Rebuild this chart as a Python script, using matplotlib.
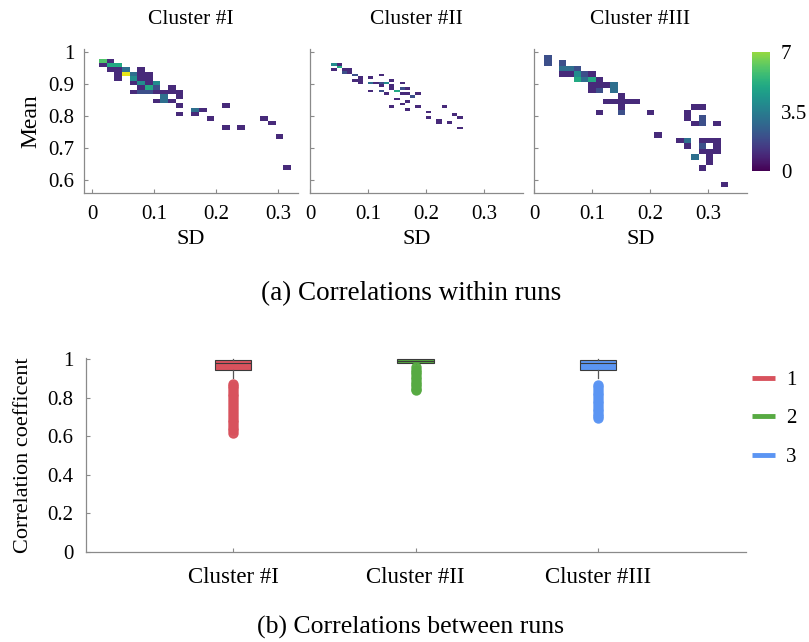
import numpy as np
import matplotlib
matplotlib.use("Agg")
from matplotlib import pyplot as plt
from matplotlib.colors import Normalize, ListedColormap
from matplotlib.cm import ScalarMappable
from matplotlib.lines import Line2D

plt.rcParams['font.family'] = ['Liberation Serif', 'DejaVu Serif']

# ---- (a) 2D histograms of SD vs mean, one per cluster ----
cluster_titles = ["Cluster #I", "Cluster #II", "Cluster #III"]

p1_sd = [.017, .030, .017, .030, .042, .030, .042, .054, .079,
         .042, .054, .067, .079, .092, .042, .067, .079, .092,
         .067, .079, .092, .104, .079, .092, .104, .129,
         .067, .079, .092, .104, .116, .129, .141,
         .116, .141, .104, .116, .129, .141, .215, .166, .178,
         .141, .166, .191, .277, .290, .215, .240, .302, .314]
p1_mean = [.972, .972, .958, .958, .958, .944, .944, .944, .944,
           .930, .930, .930, .930, .930, .916, .916, .916, .916,
           .903, .903, .903, .903, .889, .889, .889, .889,
           .875, .875, .875, .875, .875, .875, .875,
           .861, .861, .847, .847, .847, .833, .833, .819, .819,
           .805, .805, .791, .791, .777, .764, .764, .736, .638]
p1_count = [6, 1, 1, 5, 5, 1, 1, 3, 1,
            1, 8, 3, 1, 1, 1, 4, 1, 1,
            1, 4, 1, 4, 1, 5, 2, 1,
            1, 2, 2, 1, 1, 1, 1,
            3, 1, 1, 3, 1, 1, 1, 3, 1,
            1, 1, 1, 1, 1, 1, 1, 1, 1]

p2_sd = [.042, .052, .042, .052, .0615, .0615, .069, .069, .078, .086,
         .078, .086, .086, .105, .122, .105, .114, .124, .132, .141,
         .158, .105, .124, .124, .132, .141, .141, .149, .158, .167,
         .158, .167, .175, .187, .149, .167, .158, .141, .167, .187,
         .204, .231, .204, .221, .221, .240, .248, .259, .259]
p2_mean = [.958, .960, .947, .950, .944, .935, .942, .933, .928, .923,
           .913, .913, .904, .921, .930, .902, .904, .904, .904, .913,
           .904, .879, .895, .876, .871, .894, .883, .876, .887, .883,
           .869, .866, .863, .871, .853, .845, .838, .831, .821, .831,
           .814, .831, .797, .788, .782, .781, .805, .797, .764]
p2_count = [4, 1, 1, 5, 1, 2, 1, 1, 2, 1,
            1, 1, 1, 1, 1, 3, 1, 2, 4, 1,
            1, 1, 1, 2, 1, 1, 1, 5, 2, 1,
            1, 1, 2, 1, 1, 1, 1, 1, 1, 1,
            1, 1, 1, 1, 1, 1, 1, 1, 1]

p3_sd = [.024, .024, .049, .049, .062, .075, .049, .062, .075, .087, .100,
         .075, .087, .100, .113, .100, .113, .125, .138, .100, .113, .138,
         .151, .125, .138, .151, .163, .176, .151, .277, .290,
         .113, .151, .201, .264, .264, .290, .277, .290, .315,
         .214, .252, .264, .290, .302, .315, .264, .290, .315,
         .290, .302, .315, .277, .302, .302, .290, .328]
p3_mean = [.982, .965, .965, .948, .948, .948, .930, .930, .930, .930, .930,
           .913, .913, .913, .913, .896, .896, .896, .896, .879, .879, .879,
           .862, .844, .844, .844, .844, .844, .827, .827, .827,
           .810, .810, .810, .810, .793, .793, .776, .776, .776,
           .741, .724, .724, .724, .724, .724, .707, .707, .707,
           .690, .690, .690, .672, .672, .655, .638, .586]
p3_count = [2, 2, 2, 3, 3, 2, 1, 1, 4, 2, 1,
            5, 3, 5, 1, 1, 1, 1, 3, 1, 2, 3,
            1, 1, 1, 1, 1, 1, 1, 1, 1,
            1, 2, 1, 1, 1, 2, 1, 2, 1,
            1, 1, 3, 1, 1, 1, 1, 2, 1,
            1, 1, 1, 3, 1, 1, 1, 1]

# histogram bins used for each cluster
hist_ranges = [[[0.011, 0.321], [0.6315, 0.979]],
               [[0.037, 0.263], [0.758, 0.965]],
               [[0.0178, 0.334], [0.5774, 0.9906]]]
hist_bins = [[25, 25], [25, 25], [25, 24]]

# ---- (b) correlation box plots ----
box_labels = ["Cluster #I", "Cluster #II", "Cluster #III"]
box_q1 = [0.943, 0.977, 0.943]
box_med = [0.979, 0.990, 0.979]
box_q3 = [0.995, 0.998, 0.995]
box_whislo = [0.900, 0.975, 0.900]
box_whishi = [1.0, 1.0, 1.0]
fliers_1 = [0.872, 0.86, 0.848, 0.835, 0.82, 0.806, 0.79, 0.776, 0.76, 0.745,
            0.731, 0.715, 0.70, 0.686, 0.671, 0.657, 0.643, 0.63, 0.618]
fliers_2 = [0.956, 0.945, 0.933, 0.921, 0.909, 0.896, 0.883, 0.871, 0.858, 0.846, 0.84]
fliers_3 = [0.866, 0.853, 0.84, 0.826, 0.812, 0.798, 0.784, 0.77, 0.757, 0.743,
            0.729, 0.716, 0.703, 0.692]
legend_labels = ["1", "2", "3"]
box_colors = ["#d8525d", "#57aa42", "#5b95f3"]

axis_gray = "#8a8a8a"
fig = plt.figure(figsize=(8.09, 6.42), dpi=100)

cmap = plt.get_cmap("viridis")
norm = Normalize(vmin=0, vmax=8.3)

top_pos = [[0.1038, 0.6994, 0.2645, 0.2238],
           [0.3832, 0.6994, 0.2633, 0.2238],
           [0.6601, 0.6994, 0.2633, 0.2238]]
xlims = [(-0.013, 0.332), (0.0, 0.367), (0.0, 0.367)]
sds = [p1_sd, p2_sd, p3_sd]
means = [p1_mean, p2_mean, p3_mean]
counts = [p1_count, p2_count, p3_count]

for i in range(3):
    ax = fig.add_axes(top_pos[i])
    ax.hist2d(sds[i], means[i], bins=hist_bins[i], range=hist_ranges[i],
              weights=counts[i], cmin=0.5, cmap=cmap, norm=norm)
    ax.set_xlim(*xlims[i])
    ax.set_ylim(0.559, 1.008)
    ax.set_xticks([0, 0.1, 0.2, 0.3])
    ax.set_xticklabels(["0", "0.1", "0.2", "0.3"])
    ax.set_yticks([0.6, 0.7, 0.8, 0.9, 1.0])
    if i == 0:
        ax.set_yticklabels(["0.6", "0.7", "0.8", "0.9", "1"])
        ax.set_ylabel("Mean", fontsize=17, labelpad=5)
    else:
        ax.set_yticklabels([])
    ax.set_xlabel("SD", fontsize=16, labelpad=4)
    ax.set_title(cluster_titles[i], fontsize=15.5, pad=18)
    for s in ["top", "right"]:
        ax.spines[s].set_visible(False)
    for s in ["left", "bottom"]:
        ax.spines[s].set_color(axis_gray)
        ax.spines[s].set_linewidth(0.9)
    ax.tick_params(direction="in", length=3, color=axis_gray, labelsize=15)
    ax.tick_params(axis="x", pad=9)
    ax.tick_params(axis="y", pad=7)

# colorbar (shown only up to 7)
cbar_cmap = ListedColormap(cmap(np.linspace(0, 7 / 8.3, 256)))
cax = fig.add_axes([0.9295, 0.7336, 0.0222, 0.1854])
cb = fig.colorbar(ScalarMappable(norm=Normalize(0, 7), cmap=cbar_cmap), cax=cax)
cb.set_ticks([0, 3.5, 7])
cb.set_ticklabels(["0", "3.5", "7"])
cb.outline.set_visible(False)
cax.tick_params(length=0, labelsize=15, pad=8)

fig.text(0.508, 0.543, "(a) Correlations within runs", ha="center", va="center", fontsize=19.5)

# ---- bottom box plot ----
axb = fig.add_axes([0.1063, 0.1402, 0.8158, 0.3022])
fliers = [fliers_1, fliers_2, fliers_3]
for i in range(3):
    stats = [dict(med=box_med[i], q1=box_q1[i], q3=box_q3[i],
                  whislo=box_whislo[i], whishi=box_whishi[i],
                  fliers=fliers[i], label=box_labels[i])]
    axb.bxp(stats, positions=[i + 1], widths=0.2, patch_artist=True,
            showcaps=False,
            boxprops=dict(facecolor=box_colors[i], edgecolor="#3a3a3a", linewidth=0.8),
            medianprops=dict(color="#3a3a3a", linewidth=0.8),
            whiskerprops=dict(color="#555555", linewidth=0.9),
            flierprops=dict(marker="o", markersize=6.5, markerfacecolor=box_colors[i],
                            markeredgecolor=box_colors[i], alpha=0.95))
axb.set_xlim(0.195, 3.81)
axb.set_ylim(0, 1.005)
axb.set_yticks([0, 0.2, 0.4, 0.6, 0.8, 1.0])
axb.set_yticklabels(["0", "0.2", "0.4", "0.6", "0.8", "1"])
axb.set_xticks([1, 2, 3])
axb.set_xticklabels(box_labels, fontsize=16.5)
axb.set_ylabel("Correlation coefficent", fontsize=16, labelpad=10)
for s in ["top", "right"]:
    axb.spines[s].set_visible(False)
for s in ["left", "bottom"]:
    axb.spines[s].set_color(axis_gray)
    axb.spines[s].set_linewidth(0.9)
axb.tick_params(direction="in", length=3, color=axis_gray)
axb.tick_params(axis="y", labelsize=15, pad=9)
axb.tick_params(axis="x", pad=11)

handles = [Line2D([0], [0], color=c, linewidth=3.5, solid_capstyle="butt") for c in box_colors]
fig.legend(handles, legend_labels, loc="upper left", bbox_to_anchor=(0.906, 0.452),
           frameon=False, fontsize=15, handlelength=1.1, handletextpad=0.55,
           labelspacing=0.9)

fig.text(0.507, 0.023, "(b) Correlations between runs", ha="center", va="center", fontsize=18.5)

plt.savefig("out.png", dpi=100)
plt.close()
